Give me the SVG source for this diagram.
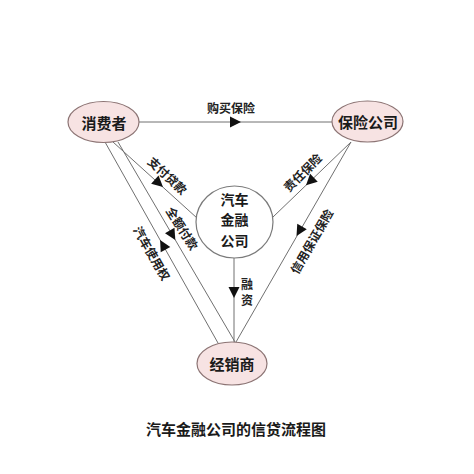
<svg xmlns="http://www.w3.org/2000/svg" xmlns:xlink="http://www.w3.org/1999/xlink" width="474" height="474" viewBox="0 0 474 474">
<style>
.n{fill:#f7e3e3;stroke:#8c7474;stroke-width:1.2}
.c{fill:#fff;stroke:#7a7a7a;stroke-width:1.2}
.nt{font-family:"Noto Sans CJK SC","Noto Sans",sans-serif;font-weight:bold;font-size:15px;fill:#1a1a1a;text-anchor:middle;dominant-baseline:central}
.ct{font-family:"Noto Sans CJK SC","Noto Sans",sans-serif;font-weight:bold;font-size:14px;fill:#1a1a1a;text-anchor:middle;dominant-baseline:central}
.l{font-family:"Noto Sans CJK SC","Noto Sans",sans-serif;font-weight:bold;font-size:12px;fill:#222;text-anchor:middle;dominant-baseline:central}
.ln{stroke:#707070;stroke-width:1;fill:none}
.t{font-family:"Noto Sans CJK SC","Noto Sans",sans-serif;font-weight:bold;font-size:15px;fill:#1a1a1a;text-anchor:middle;dominant-baseline:central}
</style>
<defs>
<path id="ah" d="M0,0 L-11,-5.5 L-11,5.5 Z" fill="#111"/>
</defs>
<rect width="474" height="474" fill="#fff"/>
<g id="connectors">
<line class="ln" x1="139" y1="122" x2="332" y2="122"/>
<line class="ln" x1="113" y1="142" x2="197" y2="218"/>
<line class="ln" x1="118" y1="142" x2="235" y2="342"/>
<line class="ln" x1="105" y1="142" x2="218" y2="343"/>
<line class="ln" x1="234" y1="258" x2="234" y2="342"/>
<line class="ln" x1="351" y1="142" x2="273" y2="217"/>
<line class="ln" x1="351" y1="142" x2="236" y2="342"/>
<use xlink:href="#ah" transform="translate(241,122)"/>
<use xlink:href="#ah" transform="translate(163,187) rotate(42.1)"/>
<use xlink:href="#ah" transform="translate(175.3,240) rotate(59.7)"/>
<use xlink:href="#ah" transform="translate(160.1,240) rotate(240.6)"/>
<use xlink:href="#ah" transform="translate(234,298) rotate(90)"/>
<use xlink:href="#ah" transform="translate(306,185.3) rotate(136.1)"/>
<use xlink:href="#ah" transform="translate(296.5,236) rotate(120.1)"/>
<text class="l" x="231" y="107">购买保险</text>
<text class="l" transform="translate(168,175) rotate(43)">支付贷款</text>
<text class="l" transform="translate(183,228) rotate(58)">全额付款</text>
<text class="l" transform="translate(152.5,253) rotate(60)">汽车使用权</text>
<text class="l" transform="translate(302,172) rotate(-45)">责任保险</text>
<text class="l" transform="translate(311,241) rotate(-60)">信用保证保险</text>
<text class="l" x="247" y="283">融</text>
<text class="l" x="247" y="299">资</text>
</g>
<g id="consumer">
<ellipse class="n" cx="103.5" cy="122" rx="35.5" ry="20.5"/>
<text class="nt" x="104" y="122">消费者</text>
</g>
<g id="insurance">
<ellipse class="n" cx="367.5" cy="121.5" rx="35.5" ry="20.5"/>
<text class="nt" x="368" y="121.5">保险公司</text>
</g>
<g id="finance">
<ellipse class="c" cx="234.5" cy="222" rx="38.5" ry="36"/>
<text class="ct" x="234.5" y="198.5">汽车</text>
<text class="ct" x="234.5" y="219">金融</text>
<text class="ct" x="234.5" y="239.5">公司</text>
</g>
<g id="dealer">
<ellipse class="n" cx="232" cy="363.5" rx="35" ry="21.5"/>
<text class="nt" x="232" y="363.5">经销商</text>
</g>
<text class="t" x="236" y="428">汽车金融公司的信贷流程图</text>
</svg>
